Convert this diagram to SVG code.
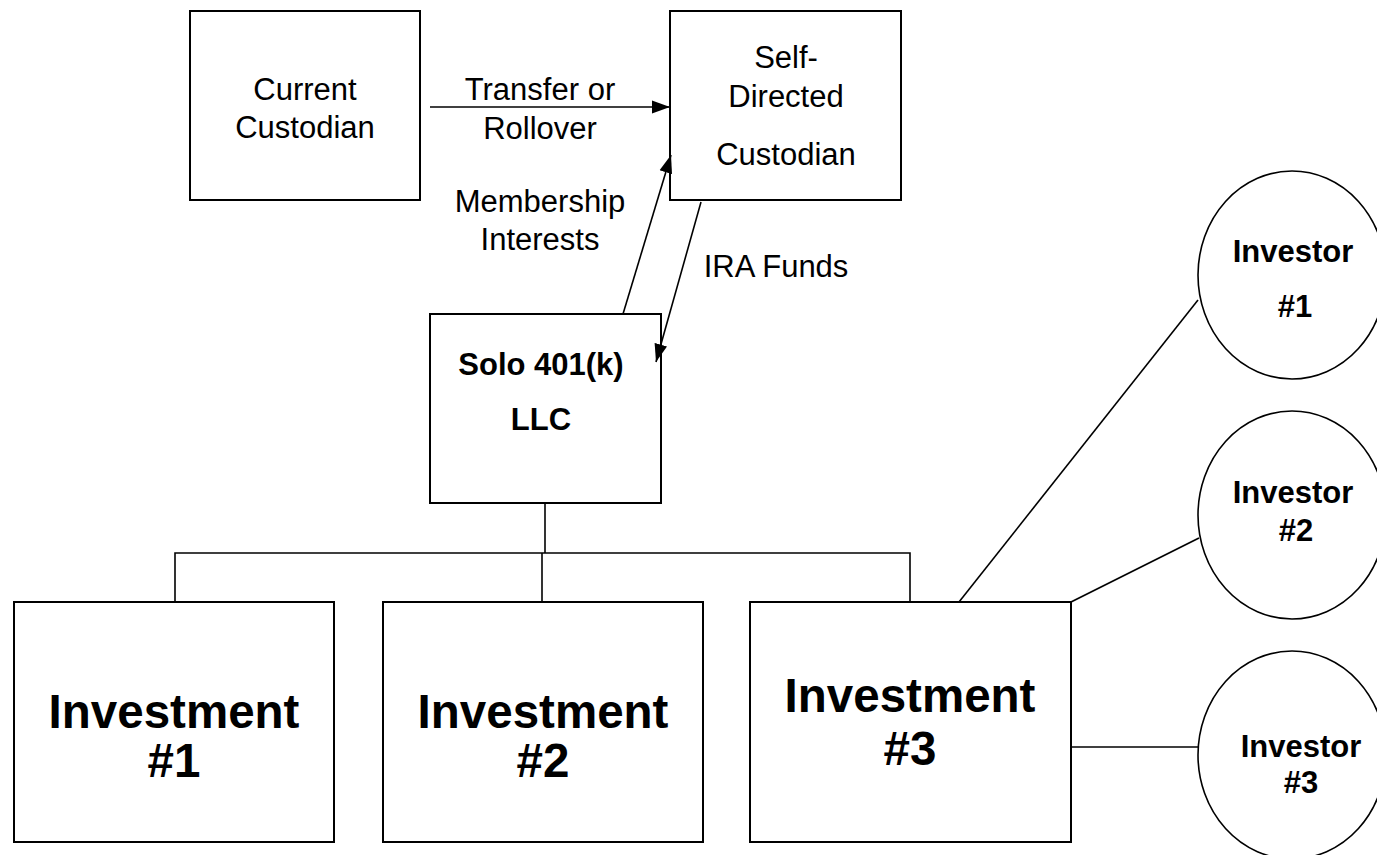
<svg xmlns="http://www.w3.org/2000/svg" width="1377" height="855" viewBox="0 0 1377 855">
<style>
.box{fill:#fff;stroke:#000;stroke-width:2}
.ell{fill:#fff;stroke:#000;stroke-width:1.6}
.ln{fill:none;stroke:#000;stroke-width:1.6}
.t{font-family:"Liberation Sans",Arial,sans-serif;font-size:31px;fill:#000;text-anchor:middle}
.b{font-family:"Liberation Sans",Arial,sans-serif;font-weight:bold;font-size:31px;fill:#000;text-anchor:middle}
.big{font-family:"Liberation Sans",Arial,sans-serif;font-weight:bold;font-size:47.5px;fill:#000;text-anchor:middle}
</style>
<defs>
<marker id="arr" markerUnits="userSpaceOnUse" markerWidth="19" markerHeight="14" refX="18" refY="7" orient="auto">
<path d="M0,0.5 L18,7 L0,13.5 Z" fill="#000"/>
</marker>
</defs>
<rect width="1377" height="855" fill="#fff"/>

<g id="current-custodian">
<rect class="box" x="190" y="11" width="230" height="189"/>
<text class="t" x="305" y="100">Current</text>
<text class="t" x="305" y="138">Custodian</text>
</g>

<g id="self-directed-custodian">
<rect class="box" x="670" y="11" width="231" height="189"/>
<text class="t" x="786" y="68">Self-</text>
<text class="t" x="786" y="107">Directed</text>
<text class="t" x="786" y="165">Custodian</text>
</g>

<g id="solo-llc">
<rect class="box" x="430" y="314" width="231" height="189"/>
<text class="b" x="541" y="375">Solo 401(k)</text>
<text class="b" x="541" y="430">LLC</text>
</g>

<g id="investment-1">
<rect class="box" x="14" y="602" width="320" height="240"/>
<text class="big" x="174" y="728">Investment</text>
<text class="big" x="174" y="777">#1</text>
</g>

<g id="investment-2">
<rect class="box" x="383" y="602" width="320" height="240"/>
<text class="big" x="543" y="728">Investment</text>
<text class="big" x="543" y="777">#2</text>
</g>

<g id="investment-3">
<rect class="box" x="750" y="602" width="321" height="240"/>
<text class="big" x="910" y="712">Investment</text>
<text class="big" x="910" y="765">#3</text>
</g>

<g id="investor-1">
<ellipse class="ell" cx="1292" cy="275" rx="94" ry="104"/>
<text class="b" x="1293" y="262">Investor</text>
<text class="b" x="1295" y="317">#1</text>
</g>

<g id="investor-2">
<ellipse class="ell" cx="1292" cy="515" rx="94" ry="104"/>
<text class="b" x="1293" y="503">Investor</text>
<text class="b" x="1296" y="541">#2</text>
</g>

<g id="investor-3">
<ellipse class="ell" cx="1292" cy="755" rx="94" ry="104"/>
<text class="b" x="1301" y="757">Investor</text>
<text class="b" x="1301" y="793">#3</text>
</g>

<g id="connectors">
<line class="ln" x1="430" y1="107" x2="670" y2="107" marker-end="url(#arr)"/>
<line class="ln" x1="623" y1="314" x2="671" y2="155" marker-end="url(#arr)"/>
<line class="ln" x1="701" y1="202" x2="656" y2="362" marker-end="url(#arr)"/>
<polyline class="ln" points="545,503 545,553"/>
<polyline class="ln" points="175,602 175,553 910,553 910,602"/>
<line class="ln" x1="542" y1="553" x2="542" y2="602"/>
<line class="ln" x1="959" y1="602" x2="1198" y2="300"/>
<line class="ln" x1="1071" y1="602" x2="1199" y2="538"/>
<line class="ln" x1="1071" y1="747" x2="1198" y2="747"/>
<text class="t" x="540" y="100">Transfer or</text>
<text class="t" x="540" y="139">Rollover</text>
<text class="t" x="540" y="212">Membership</text>
<text class="t" x="540" y="250">Interests</text>
<text class="t" x="776" y="277">IRA Funds</text>
</g>
</svg>
